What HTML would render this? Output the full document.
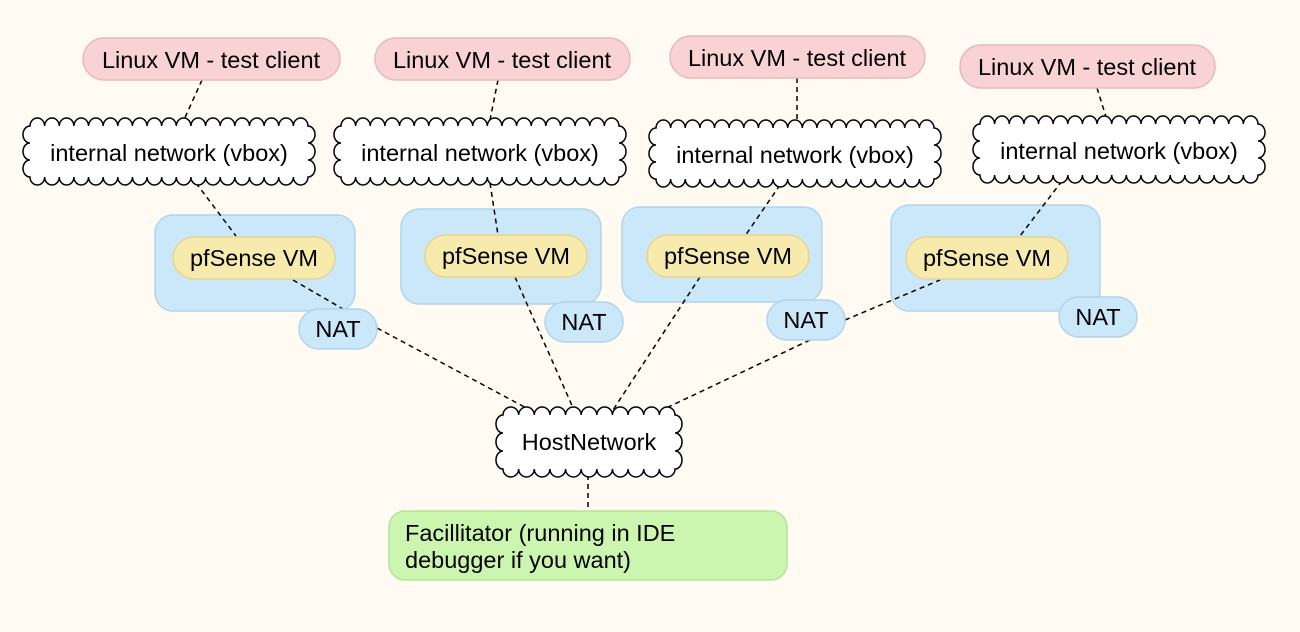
<!DOCTYPE html>
<html><head><meta charset="utf-8"><style>
html,body{margin:0;padding:0;background:#fffbf3;}
svg{display:block;}
text{font-family:"Liberation Sans",Arial,sans-serif;font-size:23.5px;fill:#000;}
</style></head><body>
<svg id="s" width="1300" height="632" viewBox="0 0 1300 632" xmlns="http://www.w3.org/2000/svg">
<rect width="1300" height="632" fill="#fffbf3"/>
<g fill="#cbe8fb" stroke="#b0d4ea" stroke-width="1.5">
<rect x="155" y="215" width="200" height="96" rx="18"/>
<rect x="401" y="209" width="200" height="95" rx="18"/>
<rect x="622" y="207" width="200" height="95" rx="18"/>
<rect x="891" y="205" width="209" height="106" rx="18"/>
</g>
<g stroke="#000" stroke-width="1.5" stroke-dasharray="5,4" fill="none">
<line x1="202" y1="80" x2="183" y2="122"/>
<line x1="498" y1="80" x2="490" y2="120"/>
<line x1="797" y1="78" x2="797" y2="122"/>
<line x1="1097" y1="88" x2="1107" y2="120"/>
<line x1="196" y1="183" x2="236" y2="236"/>
<line x1="490" y1="183" x2="498" y2="235"/>
<line x1="780" y1="185" x2="745" y2="236"/>
<line x1="1062" y1="181" x2="1020" y2="236"/>
<line x1="293" y1="280" x2="343" y2="309"/>
<line x1="377" y1="328" x2="530" y2="410"/>
<line x1="515" y1="277" x2="574" y2="410"/>
<line x1="700" y1="277" x2="613" y2="410"/>
<line x1="845" y1="320" x2="940" y2="280"/>
<line x1="810" y1="340" x2="662" y2="410"/>
<line x1="588" y1="475" x2="588" y2="511"/>
</g>
<g fill="#f9d3d3" stroke="#e8b8b8" stroke-width="1.5">
<rect x="83" y="38" width="257" height="42" rx="21"/>
<rect x="375" y="38" width="255" height="42" rx="21"/>
<rect x="670" y="36" width="255" height="42" rx="21"/>
<rect x="960" y="45" width="255" height="43" rx="21"/>
</g>
<g text-anchor="middle">
<text x="211" y="68">Linux VM - test client</text>
<text x="502" y="68">Linux VM - test client</text>
<text x="797" y="66">Linux VM - test client</text>
<text x="1087" y="75">Linux VM - test client</text>
</g>
<g fill="#f7eaad" stroke="#e6d58e" stroke-width="1.5">
<rect x="173" y="237" width="162" height="42" rx="21"/>
<rect x="425" y="235" width="162" height="42" rx="21"/>
<rect x="647" y="235" width="162" height="42" rx="21"/>
<rect x="906" y="237" width="162" height="42" rx="21"/>
</g>
<g text-anchor="middle">
<text x="254" y="266">pfSense VM</text>
<text x="506" y="264">pfSense VM</text>
<text x="728" y="264">pfSense VM</text>
<text x="987" y="266">pfSense VM</text>
</g>
<g fill="#cbe8fb" stroke="#b0d4ea" stroke-width="1.5">
<rect x="299" y="309" width="78" height="40" rx="20"/>
<rect x="545" y="302" width="78" height="40" rx="20"/>
<rect x="767" y="300" width="78" height="40" rx="20"/>
<rect x="1059" y="297" width="78" height="40" rx="20"/>
</g>
<g text-anchor="middle">
<text x="338" y="337">NAT</text>
<text x="584" y="330">NAT</text>
<text x="806" y="328">NAT</text>
<text x="1098" y="325">NAT</text>
</g>
<g fill="#fff" stroke="#000" stroke-width="1.5">
<path id="c1"/><path id="c2"/><path id="c3"/><path id="c4"/><path id="c5"/>
</g>
<g text-anchor="middle">
<text x="169" y="161">internal network (vbox)</text>
<text x="480" y="161">internal network (vbox)</text>
<text x="795" y="163">internal network (vbox)</text>
<text x="1119" y="159">internal network (vbox)</text>
<text x="589" y="450">HostNetwork</text>
</g>
<rect x="389" y="511" width="398" height="69" rx="16" fill="#ccf6b0" stroke="#b4e39a" stroke-width="1.5"/>
<text x="405" y="541">Facillitator (running in IDE</text>
<text x="405" y="568">debugger if you want)</text>
</svg>
<script>
function cloud(x0,y0,x1,y1){
  var s=8,W=x1-x0-2*s,H=y1-y0-2*s;
  var n=Math.max(1,Math.round(W/15)),w=W/n;
  var m=Math.max(1,Math.round(H/17)),h=H/m;
  var d="M"+(x0+s)+","+(y0+s);
  for(var i=0;i<n;i++)d+=" a"+(w/2)+",8 0 0,1 "+w+",0";
  for(var i=0;i<m;i++)d+=" a7,"+(h/2)+" 0 0,1 0,"+h;
  for(var i=0;i<n;i++)d+=" a"+(w/2)+",8 0 0,1 "+(-w)+",0";
  for(var i=0;i<m;i++)d+=" a7,"+(h/2)+" 0 0,1 0,"+(-h);
  return d+"Z";
}
var C=[[22,118,316,185],[333,118,627,185],[648,120,942,187],[972,116,1266,183],[495,407,683,477]];
C.forEach(function(c,i){document.getElementById("c"+(i+1)).setAttribute("d",cloud(c[0],c[1],c[2],c[3]));});
</script>
</body></html>
